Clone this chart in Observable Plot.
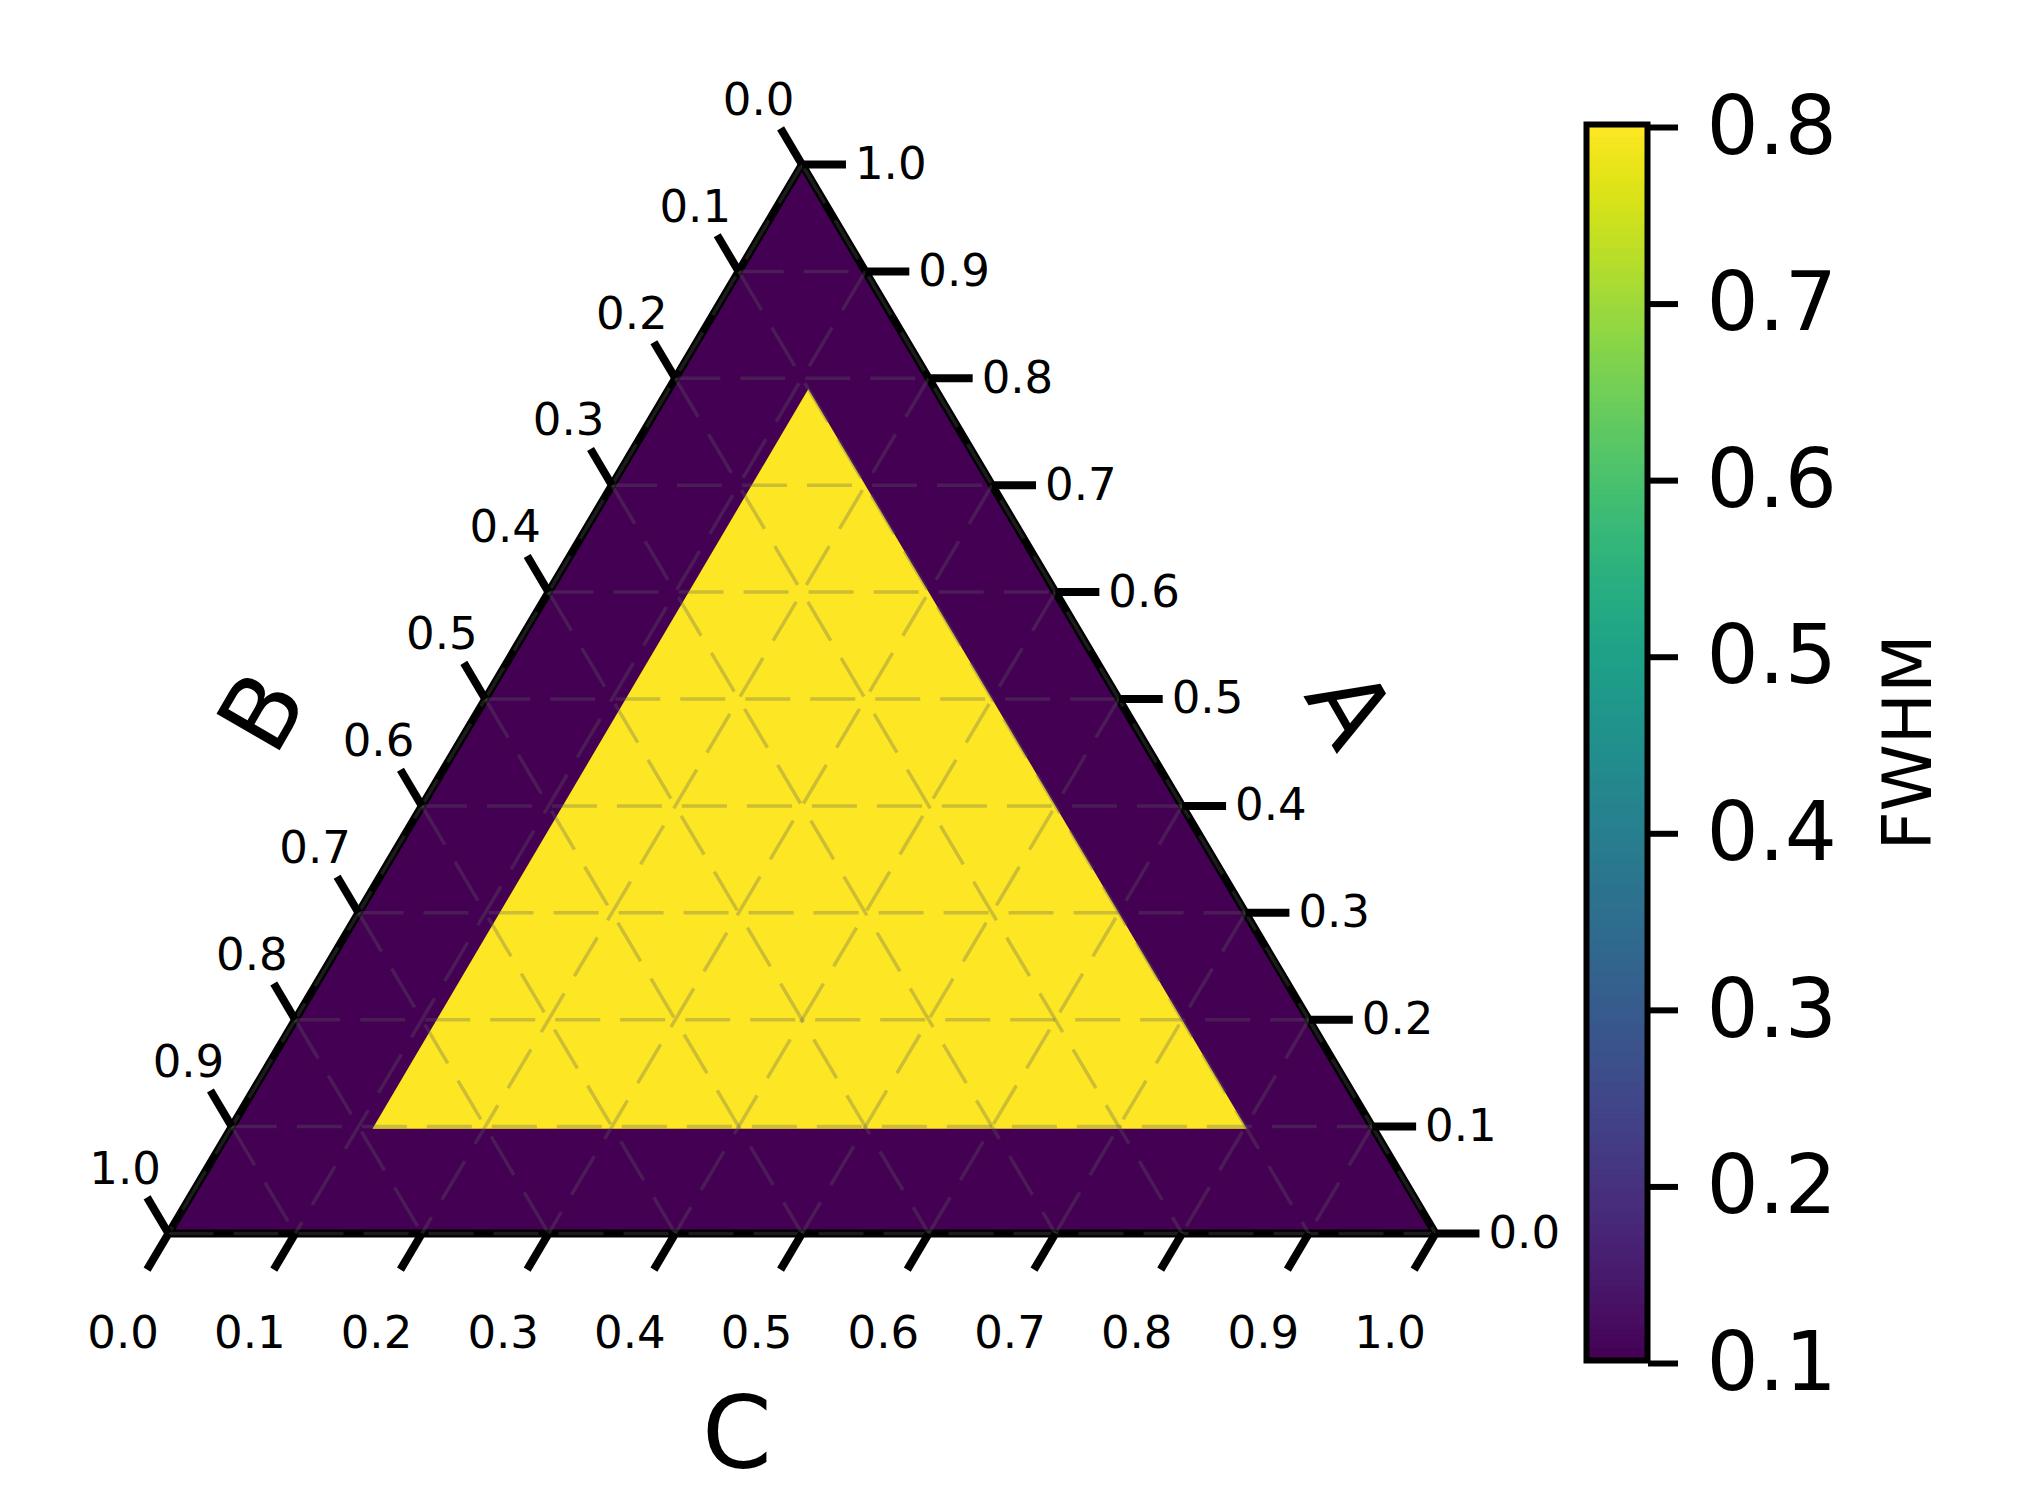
<!DOCTYPE html>
<html><head><meta charset="utf-8">
<script src="https://cdn.jsdelivr.net/npm/d3@7"></script>
<script src="https://cdn.jsdelivr.net/npm/@observablehq/plot@0.6"></script>
<style>
body{margin:0;background:#fff;}
#wrap{position:relative;width:2040px;height:1500px;font-family:"DejaVu Sans",sans-serif;background:#fff;}
#wrap svg{position:absolute;top:0;}
</style></head><body><div id="wrap"></div>
<script>
// ---- data ----
const axisNames = ["A", "B", "C"];
const colorbarLabel = "FWHM";
const tickValues = [0.0, 0.1, 0.2, 0.3, 0.4, 0.5, 0.6, 0.7, 0.8, 0.9, 1.0];
const gridValues = [0.0, 0.1, 0.2, 0.3, 0.4, 0.5, 0.6, 0.7, 0.8, 0.9, 1.0];
const colorTicks = [0.1, 0.2, 0.3, 0.4, 0.5, 0.6, 0.7, 0.8];
const colorDomain = [0.1, 0.8];
// regions of constant FWHM, vertices as [A, B, C] fractions
const regionValues = [0.1, 0.8];
const outerVertices = [[1, 0, 0], [0, 1, 0], [0, 0, 1]];
const innerVertices = [[0.79, 0.10, 0.11], [0.098, 0.79, 0.112], [0.098, 0.10, 0.802]];

// ---- ternary -> cartesian (data units) ----
const tx = (a, c) => c + a / 2;
const fmt = d3.format(".1f");
const colorScale = {type: "linear", scheme: "viridis", domain: colorDomain};
const FONT = "DejaVu Sans";

const regionPts = [outerVertices, innerVertices].flatMap((verts, i) =>
  verts.map(([a, b, c]) => ({region: i, value: regionValues[i], x: tx(a, c), y: a})));

// grid segments: constant A, constant B, constant C
const grid = [];
for (const v of gridValues) {
  grid.push({x1: tx(v, 0), y1: v, x2: tx(v, 1 - v), y2: v});            // A = v
  grid.push({x1: tx(1 - v, 0), y1: 1 - v, x2: tx(0, 1 - v), y2: 0});    // B = v
  grid.push({x1: tx(1 - v, v), y1: 1 - v, x2: tx(0, v), y2: 0});        // C = v
}
const tA = 0.0347, tB = 0.0338, tC = 0.0338;
const ticksA = tickValues.map(v => ({v, x1: tx(v, 1 - v), y1: v, x2: tx(v, 1 - v) + tA, y2: v}));
const ticksB = tickValues.map(v => ({v, x1: tx(1 - v, 0), y1: 1 - v, x2: tx(1 - v + tB, -tB), y2: 1 - v + tB}));
const ticksC = tickValues.map(v => ({v, x1: tx(0, v), y1: 0, x2: tx(-tC, v), y2: -tC}));

const spine = outerVertices.map(([a, b, c]) => ({x: tx(a, c), y: a}));

const main = Plot.plot({
  width: 2040, height: 1500, margin: 0,
  x: {domain: [0, 1], range: [168, 1435], axis: null},
  y: {domain: [0, 1], range: [1233, 164], axis: null},
  color: colorScale,
  style: {fontFamily: FONT, background: "transparent", overflow: "visible"},
  marks: [
    Plot.line(regionPts, {x: "x", y: "y", z: "region", fill: "value", stroke: "none", curve: "linear-closed"}),
    Plot.line(spine, {x: "x", y: "y", stroke: "black", strokeWidth: 8, curve: "linear-closed", strokeLinejoin: "miter"}),
    Plot.link(grid, {x1: "x1", y1: "y1", x2: "x2", y2: "y2", stroke: "#5e5e5e", strokeOpacity: 0.3, strokeWidth: 3.5, strokeDasharray: "45,20"}),
    Plot.link([...ticksA, ...ticksB, ...ticksC], {x1: "x1", y1: "y1", x2: "x2", y2: "y2", stroke: "black", strokeWidth: 8}),
    Plot.text(ticksA, {x: "x2", y: "y2", text: d => fmt(d.v), textAnchor: "start", dx: 9, fontSize: 45, fill: "black"}),
    Plot.text(ticksB, {x: "x2", y: "y2", text: d => fmt(d.v), dx: -22, dy: -28, fontSize: 45, fill: "black"}),
    Plot.text(ticksC, {x: "x2", y: "y2", text: d => fmt(d.v), dx: -24, dy: 64, fontSize: 45, fill: "black"}),
    Plot.text([axisNames[0]], {x: tx(0.5, 0.5), y: 0.5, text: d => d, rotate: 60, dx: 229, dy: 10, fontSize: 100, fill: "black"}),
    Plot.text([axisNames[1]], {x: tx(0.5, 0), y: 0.5, text: d => d, rotate: -60, dx: -221, dy: 14, fontSize: 100, fill: "black"}),
    Plot.text([axisNames[2]], {x: tx(0, 0.5), y: 0, text: d => d, dx: -65, dy: 202, fontSize: 100, fill: "black"})
  ]
});

// ---- colorbar ----
const steps = 200;
const ramp = d3.range(steps).map(i => {
  const v0 = colorDomain[0] + (colorDomain[1] - colorDomain[0]) * i / steps;
  const v1 = colorDomain[0] + (colorDomain[1] - colorDomain[0]) * (i + 1) / steps;
  return {v0, v1, v: (v0 + v1) / 2};
});
const cbLeft = 1540;
const cb = Plot.plot({
  width: 480, height: 1500,
  marginLeft: 46, marginRight: 373, marginTop: 124, marginBottom: 140,
  x: {domain: [0, 1], axis: null},
  y: {domain: colorDomain, axis: null},
  color: colorScale,
  style: {fontFamily: FONT, background: "transparent", overflow: "visible"},
  marks: [
    Plot.rect(ramp, {x1: 0, x2: 1, y1: "v0", y2: "v1", fill: "v", insetTop: -0.5, insetBottom: -0.5}),
    Plot.frame({stroke: "black", strokeWidth: 6}),
    Plot.axisY(colorTicks, {anchor: "right", tickSize: 30, tickPadding: 29, tickFormat: fmt, fontSize: 82, strokeWidth: 6, stroke: "black", fill: "black", label: null, dy: 3}),
    Plot.text([colorbarLabel], {x: 1, y: (colorDomain[0] + colorDomain[1]) / 2, text: d => d, rotate: -90, dx: 262, fontSize: 68, fill: "black"})
  ]
});
cb.style.left = cbLeft + "px";
main.style.left = "0px";
const wrap = document.getElementById("wrap");
wrap.appendChild(main);
wrap.appendChild(cb);
</script>
</body></html>
